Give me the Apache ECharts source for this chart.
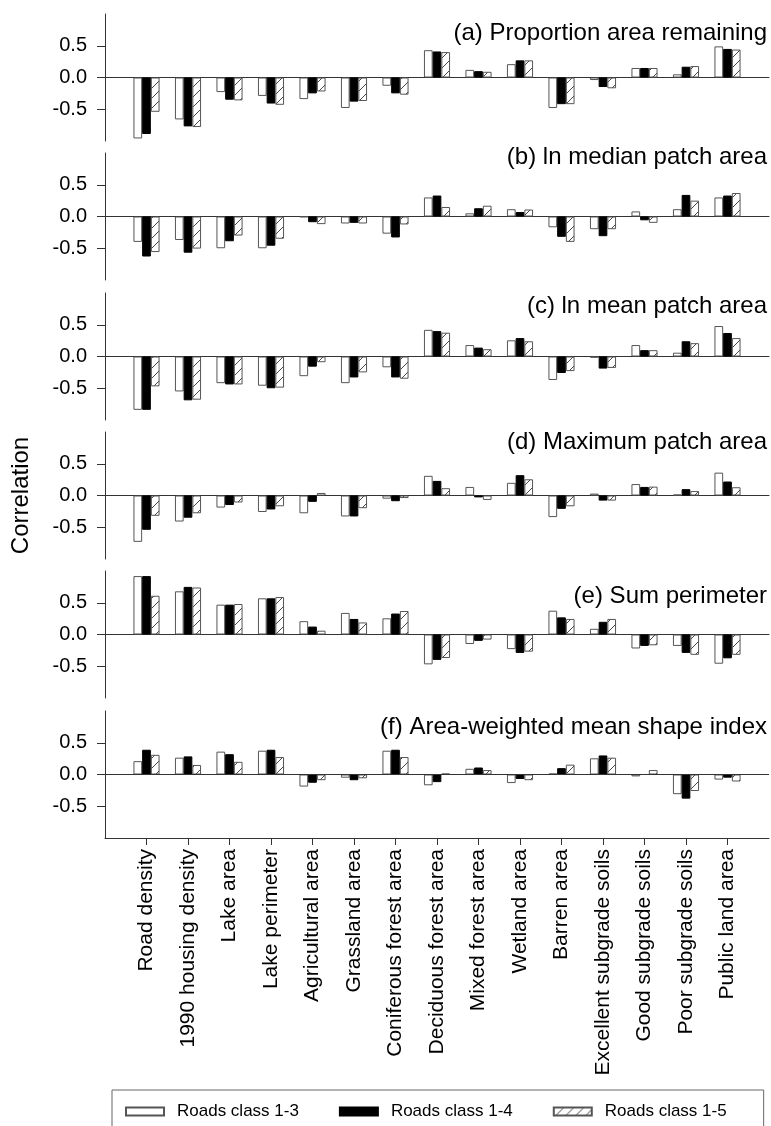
<!DOCTYPE html>
<html>
<head>
<meta charset="utf-8">
<script src="https://cdn.jsdelivr.net/npm/echarts@6/dist/echarts.min.js"></script>
<style>
html,body{margin:0;padding:0;background:#fff;}
#chart{width:771px;height:1126px;}
</style>
</head>
<body>
<div id="chart"></div>
<script>
// ---------- data ----------
const categories = ['Road density','1990 housing density','Lake area','Lake perimeter','Agricultural area','Grassland area','Coniferous forest area','Deciduous forest area','Mixed forest area','Wetland area','Barren area','Excellent subgrade soils','Good subgrade soils','Poor subgrade soils','Public land area'];
const seriesNames = ['Roads class 1-3','Roads class 1-4','Roads class 1-5'];
const panelTitles = ['(a) Proportion area remaining','(b) ln median patch area','(c) ln mean patch area','(d) Maximum patch area','(e) Sum perimeter','(f) Area-weighted mean shape index'];
const yTickValues = [-0.5, 0, 0.5];

const propArea13 = [-0.96,-0.66,-0.23,-0.29,-0.34,-0.48,-0.13,0.43,0.12,0.21,-0.48,-0.04,0.15,0.05,0.49];
const propArea14 = [-0.89,-0.77,-0.35,-0.41,-0.25,-0.38,-0.25,0.41,0.10,0.27,-0.42,-0.15,0.15,0.17,0.45];
const propArea15 = [-0.54,-0.78,-0.36,-0.43,-0.22,-0.37,-0.27,0.40,0.09,0.27,-0.42,-0.17,0.15,0.18,0.44];

const medPatch13 = [-0.40,-0.37,-0.50,-0.50,-0.01,-0.11,-0.27,0.30,0.05,0.115,-0.17,-0.20,0.08,0.115,0.30];
const medPatch14 = [-0.63,-0.57,-0.39,-0.46,-0.09,-0.10,-0.33,0.33,0.13,0.07,-0.32,-0.31,-0.06,0.34,0.33];
const medPatch15 = [-0.56,-0.505,-0.30,-0.35,-0.12,-0.11,-0.125,0.15,0.17,0.11,-0.40,-0.20,-0.10,0.25,0.37];

const meanPatch13 = [-0.84,-0.55,-0.42,-0.46,-0.31,-0.42,-0.17,0.42,0.18,0.255,-0.37,-0.02,0.18,0.06,0.48];
const meanPatch14 = [-0.84,-0.69,-0.44,-0.50,-0.16,-0.33,-0.33,0.40,0.14,0.29,-0.26,-0.19,0.10,0.24,0.37];
const meanPatch15 = [-0.47,-0.68,-0.44,-0.49,-0.09,-0.25,-0.35,0.375,0.115,0.24,-0.23,-0.18,0.10,0.21,0.29];

const maxPatch13 = [-0.73,-0.41,-0.19,-0.26,-0.28,-0.33,-0.05,0.31,0.135,0.20,-0.34,0.03,0.18,0.015,0.36];
const maxPatch14 = [-0.54,-0.35,-0.15,-0.22,-0.10,-0.33,-0.09,0.23,-0.03,0.32,-0.21,-0.08,0.135,0.10,0.22];
const maxPatch15 = [-0.32,-0.28,-0.11,-0.17,0.04,-0.20,-0.04,0.115,-0.07,0.255,-0.17,-0.08,0.14,0.07,0.13];

const sumPerim13 = [0.92,0.68,0.47,0.57,0.21,0.34,0.255,-0.47,-0.15,-0.23,0.375,0.09,-0.22,-0.18,-0.46];
const sumPerim14 = [0.92,0.75,0.47,0.57,0.125,0.245,0.33,-0.40,-0.10,-0.29,0.27,0.20,-0.18,-0.29,-0.375];
const sumPerim15 = [0.61,0.74,0.48,0.59,0.06,0.19,0.37,-0.37,-0.08,-0.27,0.245,0.245,-0.17,-0.32,-0.32];

const shapeIdx13 = [0.21,0.265,0.36,0.375,-0.19,-0.05,0.375,-0.17,0.09,-0.135,0.015,0.255,-0.03,-0.31,-0.08];
const shapeIdx14 = [0.39,0.285,0.32,0.39,-0.13,-0.09,0.39,-0.12,0.11,-0.07,0.10,0.30,0.0,-0.38,-0.05];
const shapeIdx15 = [0.31,0.15,0.20,0.275,-0.09,-0.06,0.275,0.015,0.07,-0.09,0.155,0.265,0.07,-0.26,-0.11];

const panels = [
  [propArea13, propArea14, propArea15],
  [medPatch13, medPatch14, medPatch15],
  [meanPatch13, meanPatch14, meanPatch15],
  [maxPatch13, maxPatch14, maxPatch15],
  [sumPerim13, sumPerim14, sumPerim15],
  [shapeIdx13, shapeIdx14, shapeIdx15]
];

// ---------- layout / style ----------
const FONT = "'Liberation Sans', Arial, sans-serif";
const gridTops = [14, 153, 293, 432, 571, 711];
const gridHeight = 127;
const titleCenters = [33, 157, 306, 442, 596, 727];
const AXIS_COLOR = '#333';

function hatchPattern() {
  const c = document.createElement('canvas');
  c.width = 10; c.height = 10;
  const g = c.getContext('2d');
  g.fillStyle = '#fff';
  g.fillRect(0, 0, 10, 10);
  g.strokeStyle = '#333';
  g.lineWidth = 0.9;
  g.beginPath();
  g.moveTo(-1, 11); g.lineTo(11, -1);
  g.moveTo(-1, 1); g.lineTo(1, -1);
  g.moveTo(9, 11); g.lineTo(11, 9);
  g.stroke();
  return c;
}
const hatch = { image: hatchPattern(), repeat: 'repeat' };

const seriesStyles = [
  { color: '#ffffff', borderColor: '#555', borderWidth: 1 },
  { color: '#000000', borderColor: '#000', borderWidth: 1 },
  { color: hatch, borderColor: '#555', borderWidth: 1 }
];

const grids = [], xAxes = [], yAxes = [], series = [], titles = [];
const catIdx = categories.map((c, i) => i);

gridTops.forEach((top, p) => {
  grids.push({ left: 105, right: 2, top: top, height: gridHeight, containLabel: false });
  const last = p === gridTops.length - 1;
  xAxes.push({
    type: 'value', gridIndex: p, min: -1, max: 15, interval: 1,
    splitLine: { show: false },
    axisLine: { show: true, onZero: !last, lineStyle: { color: AXIS_COLOR, width: 1 } },
    axisTick: last ? { show: true, customValues: catIdx, length: 7, lineStyle: { color: AXIS_COLOR } } : { show: false },
    axisLabel: last ? {
      show: true, customValues: catIdx, rotate: 90, margin: 11,
      fontFamily: FONT, fontSize: 21, color: '#000',
      formatter: v => categories[Math.round(v)] || ''
    } : { show: false }
  });
  const yAx = {
    type: 'value', gridIndex: p, min: -1, max: 1,
    splitLine: { show: false },
    axisLine: { show: true, onZero: false, lineStyle: { color: AXIS_COLOR, width: 1 } },
    axisTick: { show: true, customValues: yTickValues, length: 8, lineStyle: { color: AXIS_COLOR } },
    axisLabel: { show: true, customValues: yTickValues, margin: 18, fontFamily: FONT, fontSize: 20, color: '#000',
      formatter: v => Number(v).toFixed(1) }
  };
  if (p === 3) {
    yAx.name = 'Correlation';
    yAx.nameLocation = 'middle';
    yAx.nameGap = 72;
    yAx.nameRotate = 90;
    yAx.nameTextStyle = { fontFamily: FONT, fontSize: 24, color: '#000' };
  }
  yAxes.push(yAx);

  panels[p].forEach((vals, s) => {
    const ser = {
      name: seriesNames[s], type: 'bar', xAxisIndex: p, yAxisIndex: p,
      barWidth: 8.7, barGap: '0%',
      itemStyle: seriesStyles[s],
      emphasis: { disabled: true },
      data: vals.map((v, i) => [i, v])
    };
    if (last && s === 0) {
      ser.markLine = {
        silent: true, symbol: 'none', label: { show: false },
        lineStyle: { color: AXIS_COLOR, type: 'solid', width: 1 },
        data: [{ yAxis: 0 }]
      };
    }
    series.push(ser);
  });

  titles.push({
    text: panelTitles[p], right: 4, top: titleCenters[p] - 13, padding: 0,
    textStyle: { fontFamily: FONT, fontSize: 24, fontWeight: 'normal', color: '#000', lineHeight: 26 }
  });
});

const chart = echarts.init(document.getElementById('chart'), null, { renderer: 'canvas' });
chart.setOption({
  animation: false,
  backgroundColor: '#fff',
  title: titles,
  grid: grids,
  xAxis: xAxes,
  yAxis: yAxes,
  legend: {
    data: seriesNames.map(n => ({ name: n, icon: 'rect' })),
    left: 112, top: 1090,
    padding: [13, 37, 13, 13],
    borderColor: '#666', borderWidth: 1,
    itemWidth: 38, itemHeight: 8, itemGap: 40,
    textStyle: { fontFamily: FONT, fontSize: 17, color: '#000', padding: [0, 0, 0, 8] }
  },
  series: series
});
</script>
</body>
</html>
